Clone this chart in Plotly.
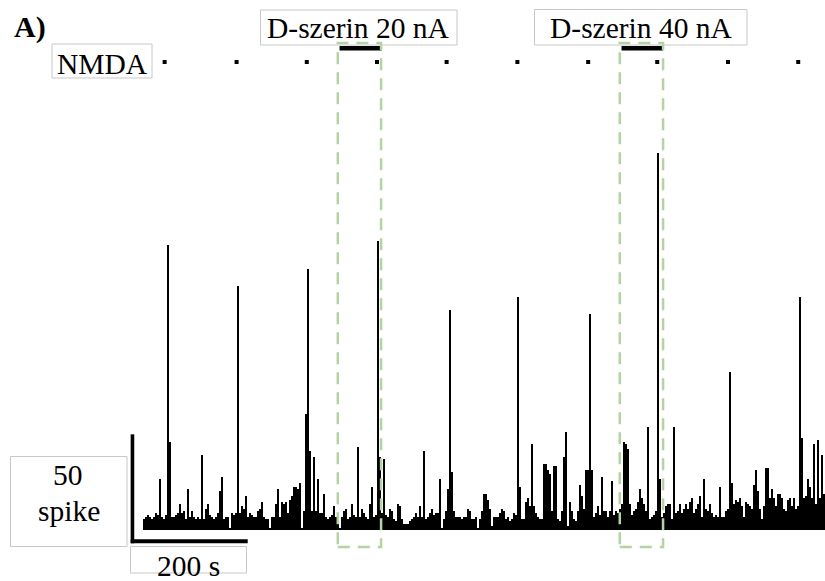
import plotly.graph_objects as go

W, H = 825, 581

# ---------------- data ----------------
BIN_S = 3.42  # histogram bin width, seconds
spike_counts = [
    5, 6, 7, 6, 5, 6, 8, 7, 24, 6, 5, 7, 133, 41, 6, 6, 7, 8, 12, 8,
    9, 5, 19, 6, 9, 6, 5, 6, 5, 35, 5, 10, 12, 7, 6, 5, 6, 8, 18, 25,
    5, 6, 6, 1, 8, 7, 8, 114, 8, 11, 10, 16, 6, 8, 7, 6,
    6, 9, 10, 13, 6, 5, 5, 1, 6, 6, 12, 19, 6, 13, 12, 13, 8, 14, 16, 20,
    20, 19, 22, 1, 9, 54, 122, 37, 9, 34, 9, 24, 8, 8, 17, 6, 5, 6, 7, 11,
    6, 4, 1, 6, 9, 10, 5, 6, 12, 7, 6, 39, 6, 10, 8, 6, 5, 12,
    20, 6, 7, 135, 34, 8, 33, 7, 6, 10, 9, 5, 4, 12, 11, 5, 3, 3, 3, 4,
    5, 6, 8, 6, 11, 6, 37, 5, 6, 8, 10, 7, 8, 8, 24, 1, 5, 9, 19, 103,
    27, 9, 6, 6, 6, 5, 6, 6, 10, 9, 5, 5, 6, 1, 5, 9, 17,
    17, 14, 10, 2, 6, 6, 6, 8, 10, 9, 5, 6, 4, 5, 8, 7, 109, 20, 5, 5,
    13, 15, 11, 40, 11, 8, 6, 5, 5, 31, 31, 28, 26, 9, 30, 30, 5, 4, 9, 34,
    46, 2, 13, 9, 5, 4, 9, 21, 16, 10, 28, 28, 101, 28, 6, 8, 11, 7,
    25, 9, 9, 6, 9, 23, 7, 9, 8, 10, 12, 41, 40, 38, 12, 7, 9, 10, 13, 19,
    15, 12, 9, 48, 5, 6, 7, 9, 176, 24, 6, 8, 11, 12, 12, 5, 48, 8, 9, 12,
    8, 10, 12, 10, 13, 15, 8, 10, 12, 16, 6, 24, 10, 9, 12, 8, 6,
    7, 6, 20, 6, 6, 9, 10, 74, 22, 12, 14, 13, 15, 11, 6, 13, 12, 11, 10, 21,
    28, 18, 10, 5, 11, 29, 29, 15, 19, 15, 11, 17, 17, 15, 10, 9, 14, 15, 11, 15,
    10, 11, 109, 43, 15, 16, 24, 20, 15, 40, 12, 42, 15, 35, 17, 13,
]
nmda_times = [37, 160, 280, 400, 519, 640, 761, 879, 1000, 1120]  # s
dser_labels = ["D-szerin 20 nA", "D-szerin 40 nA"]
dser_on = [336, 818]      # s
dser_off = [408, 889]     # s
window_start = [333, 815]  # s
window_end = [407, 889]    # s
scale_time = 200   # s
scale_spikes = 50  # spikes

# axis ranges chosen so that the whole page is the plotting area
X_RANGE = [-244.4, 1165.8]
Y_RANGE = [-23.83, 247.66]

FONT = "Liberation Serif, Times New Roman, serif"
GREEN = "#b3d3a3"
BOXC = "#c8c8c8"


def px(x):
    return x / W


def py(y):
    return 1 - y / H


centers = [BIN_S * (i + 0.5) for i in range(len(spike_counts))]

fig = go.Figure()
fig.add_trace(go.Bar(
    x=centers, y=spike_counts, width=BIN_S,
    marker=dict(color="black", line=dict(width=0)),
    hoverinfo="skip",
))

NMDA_Y = 218.7
DSER_Y = 225.1
fig.add_trace(go.Scatter(
    x=nmda_times, y=[NMDA_Y] * len(nmda_times), mode="markers",
    marker=dict(symbol="square", size=4, color="black", line=dict(width=0)),
    hoverinfo="skip",
))

shapes = []
# D-serine application bars
for a, b in zip(dser_on, dser_off):
    shapes.append(dict(type="line", xref="x", yref="y", x0=a, x1=b,
                       y0=DSER_Y, y1=DSER_Y, line=dict(color="black", width=4.5)))
# green dashed windows
for a, b in zip(window_start, window_end):
    shapes.append(dict(type="rect", xref="x", yref="y", x0=a, x1=b,
                       y0=-7.9, y1=227.6,
                       line=dict(color=GREEN, width=2.5, dash="12px,8px")))
# scale bars
SB_T0 = -21.0
SB_Y0 = -5.3
shapes.append(dict(type="line", xref="x", yref="y", x0=SB_T0, x1=SB_T0 + scale_time,
                   y0=SB_Y0, y1=SB_Y0, line=dict(color="black", width=4)))
shapes.append(dict(type="line", xref="x", yref="y", x0=SB_T0 + 3, x1=SB_T0 + 3,
                   y0=SB_Y0 - 0.9, y1=SB_Y0 + scale_spikes, line=dict(color="black", width=3.6)))

# label boxes (pixel positions)
boxes = [(52, 44, 152, 78), (260.5, 10, 457, 45), (534.5, 9.5, 747, 45),
         (10.5, 456.5, 127, 546.5), (130.5, 546.5, 246.5, 573)]
for x0, y0, x1, y1 in boxes:
    shapes.append(dict(type="rect", xref="paper", yref="paper",
                       x0=px(x0), x1=px(x1), y0=py(y1), y1=py(y0),
                       line=dict(color=BOXC, width=1)))

labels = [
    ("<b>A)</b>", 30, 27, 30),
    ("NMDA", 102, 63.5, 29.5),
    (dser_labels[0], 358, 27.5, 29.5),
    (dser_labels[1], 641, 27.5, 29.5),
    ("50", 68.3, 475, 29.5),
    ("spike", 68.7, 511, 29.5),
    ("200 s", 188.3, 566, 29.5),
]
annotations = []
for txt, x, y, fs in labels:
    annotations.append(dict(text=txt, xref="paper", yref="paper", x=px(x), y=py(y),
                            xanchor="center", yanchor="middle", showarrow=False,
                            font=dict(family=FONT, size=fs, color="black")))

fig.update_layout(
    width=W, height=H, autosize=False,
    margin=dict(l=0, r=0, t=0, b=0),
    paper_bgcolor="white", plot_bgcolor="white",
    showlegend=False, bargap=0,
    xaxis=dict(range=X_RANGE, visible=False, fixedrange=True),
    yaxis=dict(range=Y_RANGE, visible=False, fixedrange=True),
    shapes=shapes, annotations=annotations,
)
fig.write_html("out.html")
